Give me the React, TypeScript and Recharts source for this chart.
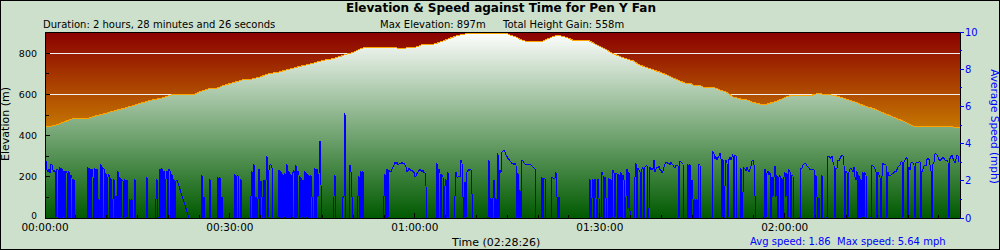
import React from "react";
import {
  ComposedChart,
  Area,
  Line,
  XAxis,
  YAxis,
  CartesianGrid,
  ReferenceLine,
} from "recharts";

// ---------- data ----------
const TOTAL_SECONDS = 8906;
const MAX_ELEVATION = 897;
const HEIGHT_GAIN = 558;
const AVG_SPEED = 1.86;
const MAX_SPEED = 5.64;
const chartTitle = "Elevation & Speed against Time for Pen Y Fan";

const elevSeconds = [
  0, 49, 114, 178, 243, 276, 406, 438, 535, 633, 730, 827, 925, 1022, 1119, 1217, 1249, 1460, 1509, 1606,
  1671, 1720, 1801, 1898, 1930, 1995, 2093, 2190, 2255, 2352, 2450, 2514, 2612, 2709, 2774, 2871, 2936, 3001, 3066, 3115,
  3407, 3439, 3504, 3520, 3601, 3650, 3682, 3780, 3812, 3877, 3942, 4007, 4071, 4120, 4250, 4494, 4526, 4574, 4623, 4672,
  4688, 4834, 4883, 4947, 4996, 5045, 5110, 5142, 5288, 5337, 5402, 5467, 5531, 5596, 5662, 5726, 5791, 5856, 5921, 5986,
  6051, 6115, 6180, 6229, 6278, 6310, 6375, 6407, 6505, 6570, 6635, 6700, 6764, 6830, 6894, 6959, 7024, 7089, 7154, 7219,
  7267, 7462, 7527, 7575, 7673, 7738, 7803, 7867, 7932, 7997, 8062, 8127, 8192, 8257, 8322, 8387, 8451, 8808, 8841, 8906,
];
const elevMeters = [
  441, 445, 452, 465, 477, 482, 482, 488, 501, 514, 528, 541, 556, 571, 580, 595, 601, 601, 614, 629,
  630, 640, 653, 666, 672, 672, 685, 702, 706, 719, 732, 740, 752, 766, 770, 784, 795, 805, 821, 828,
  828, 823, 823, 828, 828, 837, 844, 844, 848, 860, 873, 884, 892, 895, 897, 895, 889, 881, 868, 860,
  857, 857, 868, 881, 887, 881, 870, 862, 862, 850, 832, 816, 798, 784, 772, 763, 742, 731, 719, 708,
  695, 679, 666, 655, 655, 645, 645, 635, 635, 622, 610, 587, 578, 574, 561, 553, 553, 562, 574, 588,
  596, 596, 605, 601, 596, 588, 577, 566, 554, 540, 532, 517, 504, 490, 477, 462, 446, 446, 441, 441,
];

// one speed sample every SPEED_SAMPLE_SECONDS; null = no data recorded
const SPEED_SAMPLE_SECONDS = TOTAL_SECONDS / 915;
const speedMph: (number | null)[] = [
  1.5, 3.05, 2.6, 2.5, 2.65, 2.4, 2.9, 2.85, 2.6, 2.5,
  2.55, 0, 2.6, 2.6, 0, 2.75, 0, 2.7, 0, 2.55,
  0, 2.5, 2.45, 0, 2.5, 0, 2.3, 2.15, 0, 2.1,
  0, 0, 0, 0, 0, 0, 0, 0, 0, 0,
  0, 0, 0, 2.75, 0, 2.7, 0, 2.65, 2.2, 0,
  2.7, 0, 2.65, 0, 1.0, 0, 2.9, 0, 2.7, 2.65,
  0, 2.4, 0, 2.2, 2.35, 0, 2.15, 0, 1.0, 2.1,
  0, 1.2, 0, 2.5, 0, 2.2, 0, 2.05, 2.0, 0,
  2.1, 0, 2.05, 0, 0, 1.0, 0, 1.0, 0, 0,
  2.1, 0, 0, 0, 0, 0, 0, 0, 0, 0,
  0, 0, 2.2, 0, 0, 0, 0, 0, 0, 0,
  0, 1.0, 2.1, 0, 0, 2.65, 0, 2.7, 0, 2.55,
  0, 2.1, 2.55, 0, 2.6, 2.55, 0, 2.35, 0, 2.1,
  0, 2.0, 2.05, null, null, null, null, null, null, null,
  null, null, null, null, 0, 0, 0, 0, 0, 0,
  0, 0, 0, 0, 0, 0, 0, 2.3, 0, 1.15,
  0, 0, 0, 0, 0, 2.1, 0, 0, 0, 0,
  0, 0, 0, 2.2, 0, 2.2, 0, 1.15, 0, 0,
  0, 0, 0, 0, 0, 0, 0, 0, 0, 0,
  2.35, 0, 2.25, 2.3, 0, 0, 2.1, 0, 0, 0,
  0, 0, 0, 0, 0, 0, 1.15, 2.5, 0, 2.9,
  0, 1.15, 0, 1.0, 2.65, 0, 2.0, 1.15, 0, 2.05,
  0, 2.0, 3.35, 0, 2.6, 2.85, 2.85, 2.7, 0, 0,
  0, 0, 0, 0, 2.6, 0, 2.5, 0, 2.35, 0,
  2.4, 0, 2.9, 0, 2.5, 0, 2.35, 0, 2.45, 2.55,
  0, 2.85, 0, 2.55, 2.3, 0, 2.2, 0, 2.05, 0,
  2.5, 0, 2.4, 0, 2.3, 0, 2.3, 1.15, 0, 0,
  2.7, 0, 2.65, 1.15, 2.35, 4.15, 1.75, 0, 0, 0,
  0, 0, 0, 0, 0, 0, 0, 0, 0, 1.15,
  2.3, 0, 0, 0, 0, 0, 0, 0, 1.15, 1.1,
  5.64, 0, 0, 0, 0, 2.85, 2.5, 1.15, 0, 0,
  0, 0, 0, 1.15, 2.25, 0, 2.5, 0, 2.5, 0,
  0, 0, 0, 0, 0, 0, 0, 0, 0, 0,
  0, 0, 0, 0, 0, 0, 0, 0, 0, 1.15,
  2.35, 0, 2.65, 0, 2.55, 2.5, 2.5, 2.65, 2.75, 2.85,
  3.0, 2.9, 3.0, 2.85, 2.9, 2.95, 2.9, 3.0, 2.9, 2.95,
  2.85, 2.75, 2.5, 2.55, 2.7, 2.6, 2.55, 2.55, 2.5, 2.45,
  2.2, 2.25, 2.4, 2.45, 2.6, 2.55, 2.6, 2.5, 2.55, 2.45,
  2.45, 1.7, 0, 0, 0, 0, 0, 0, 0, 0,
  0, 0, 2.95, 0, 2.65, 2.4, 0, 2.3, 2.2, 0,
  1.7, 2.1, 0, 2.45, 0, 0, 0, 0, 0, 0,
  1.15, 2.45, 2.2, 2.2, 2.25, 2.2, 3.1, 2.95, 1.15, 0,
  1.95, 0, 2.45, 2.6, 2.55, 2.6, 2.6, 1.3, 0, 0,
  0, 0, 0, 0, 0, 0, 0, 0, 0, 0,
  0, 0, 0, 0, 3.1, 0, 1.05, 0, 1.05, 2.05,
  0, 1.05, 0, 3.5, 0, 2.6, 2.45, 3.55, 3.6, 3.65,
  3.55, 3.4, 3.3, 3.2, 3.15, 3.05, 3.0, 2.9, 2.95, 2.85,
  2.95, 2.85, 0, 2.4, 0, 1.5, 0, 3.1, 3.05, 2.95,
  2.9, 2.85, 2.9, 2.85, 2.85, 2.85, 2.85, 2.8, 2.75, 2.7,
  2.65, 0, 0, 0, 0, 0, 0, 2.2, 0, 2.15,
  2.1, 0, 0, 0, 0, 0, 0, 2.2, 2.15, 2.1,
  2.15, 2.45, 1.15, 0, 1.15, 0, 0, 0, 0, 0,
  0, 0, 0, 0, 0, 0, 0, 0, 0, 0,
  0, 0, 0, 0, 0, 0, 0, 0, 0, 0,
  0, 0, 0, 0, 0, 2.1, 0, 1.05, 2.1, 0,
  2.1, 1.05, 0, 2.1, 1.05, 0, 0, 2.45, 2.3, 0,
  2.2, 1.1, 0, 0, 2.15, 0, 2.1, 0, 2.6, 2.45,
  0, 2.4, 2.4, 0, 2.35, 0, 2.45, 0, 2.3, 2.05,
  0, 1.15, 2.65, 0.5, 2.45, 0.4, 0, 0, 0, 0,
  2.2, 2.95, 0, 2.65, 2.6, 2.5, 0, 2.65, 2.75, 0,
  2.75, 2.8, 2.85, 0, 0.5, 2.75, 2.6, 2.65, 2.6, 3.1,
  2.45, 2.65, 2.75, 2.7, 2.8, 2.6, 2.55, 2.45, 2.5, 2.75,
  2.9, 3.0, 3.0, 2.9, 2.95, 2.85, 3.0, 2.9, 2.85, 2.75,
  2.7, 2.85, 2.8, 2.85, 0, 3.05, 3.0, 2.95, 2.9, 0,
  0, 0, 0, 2.9, 0, 2.9, 0, 2.05, 1.0, 0,
  1.0, 0, 1.0, 0, 2.9, 2.85, 0, 0, 0, 0,
  0, 0, 0, 0, 0, 0, 0, 0, 3.55, 3.45,
  3.2, 3.3, 3.15, 3.25, 3.35, 3.5, 3.2, 0, 3.15, 0,
  1.7, 3.1, 2.95, 0, 3.15, 3.25, 3.1, 3.3, 3.45, 0,
  3.4, 3.35, 0, 0, 0, 0, 2.7, 0, 1.4, 2.7,
  2.65, 2.55, 2.75, 2.6, 2.5, 2.65, 2.8, 3.05, 3.1, 2.85,
  1.2, 0, 0, 0, 0, 0, 0, 0, 0, 0,
  2.65, 0, 2.4, 2.5, 2.3, 2.45, 0, 2.2, 1.15, 2.2,
  2.8, 1.15, 2.3, 0, 2.2, 2.3, 0, 2.15, 0, 2.2,
  2.45, 1.15, 2.4, 0, 2.6, 2.5, 0, 2.3, 2.25, 0,
  0, 0, 0, 0, 0, 0, 2.65, 2.7, 2.85, 2.9,
  2.95, 2.9, 2.8, 2.75, 2.7, 2.6, 2.6, 2.6, 2.6, 2.6,
  0, 2.3, 1.15, 0, 1.1, 0, 0, 2.3, 0, 0,
  0, 0, 0, 3.3, 3.3, 3.25, 3.2, 3.35, 3.0, 2.85,
  0, 2.65, 2.7, 3.1, 3.05, 3.2, 3.3, 3.35, 3.35, 2.85,
  0, 2.5, 2.45, 0, 2.45, 2.65, 2.7, 2.6, 2.5, 2.75,
  2.2, 2.05, 2.5, 0, 2.3, 0, 2.1, 0, 2.45, 0,
  2.4, 2.3, 0, 0, 0, 0, 0, 2.8, 2.8, 2.75,
  2.65, 2.5, 0, 2.45, 2.3, 2.2, 0, 2.25, 2.95, 2.85,
  2.9, 2.85, 0, 2.45, 2.25, 2.3, 2.3, 2.35, 2.4, 2.45,
  2.5, 2.5, 2.6, 2.75, 2.8, 2.85, 3.0, 3.05, 0, 3.0,
  3.1, 3.2, 3.25, 0, 2.75, 2.6, 2.95, 3.0, 2.95, 2.85,
  0, 2.95, 3.0, 2.95, 3.0, 3.05, 0, 2.5, 2.65, 2.8,
  2.85, 2.8, 3.15, 3.2, 3.15, 2.85, 2.55, 0, 2.9, 3.0,
  3.45, 3.45, 3.4, 3.3, 3.15, 3.1, 3.15, 3.2, 3.25, 3.2,
  3.1, 3.05, 3.1, 3.0, 0, 3.2, 3.3, 3.4, 3.2, 3.05,
  2.95, 3.15, 3.4, 3.35, 3.0,
];

const timeTickSeconds = [
  0, 300, 600, 900, 1200, 1500, 1800, 2100, 2400, 2700, 3000, 3300, 3600, 3900, 4200,
  4500, 4800, 5100, 5400, 5700, 6000, 6300, 6600, 6900, 7200, 7500, 7800, 8100, 8400, 8700,
];
const labeledTimeTicks = [0, 1800, 3600, 5400, 7200];
const elevTicks = [0, 100, 200, 300, 400, 500, 600, 700, 800];
const labeledElevTicks = [0, 200, 400, 600, 800];
const elevGridValues = [200, 400, 600, 800];
const speedTicks = [0, 1, 2, 3, 4, 5, 6, 7, 8, 9, 10];
const labeledSpeedTicks = [0, 2, 4, 6, 8, 10];
const ELEV_AXIS_MAX = 903;
const SPEED_AXIS_MAX = 10;

// ---------- helpers ----------
const pad = (n: number) => String(n).padStart(2, "0");
const fmtTime = (s: number) =>
  `${pad(Math.floor(s / 3600))}:${pad(Math.floor((s % 3600) / 60))}:${pad(Math.round(s % 60))}`;

type Row = { t: number; elev: number | null; speed: number | null };
const rows: Row[] = [];
speedMph.forEach((v, i) => rows.push({ t: i * SPEED_SAMPLE_SECONDS, elev: null, speed: v }));
elevSeconds.forEach((t, i) => rows.push({ t, elev: elevMeters[i], speed: null }));
rows.sort((a, b) => a.t - b.t);

const FONT = "DejaVu Sans";

const TimeTick = (props: any) => {
  const { x, y, payload } = props;
  const v = payload.value as number;
  const labeled = labeledTimeTicks.includes(v);
  return (
    <g>
      <line x1={x} y1={y} x2={x} y2={y - (labeled ? 5 : 3)} stroke="#000" />
      {labeled && (
        <text x={x} y={y + 12.5} textAnchor="middle" fontSize={10.5} fontFamily={FONT} fill="#000">
          {fmtTime(v)}
        </text>
      )}
    </g>
  );
};

const ElevTick = (props: any) => {
  const { x, y, payload } = props;
  const v = payload.value as number;
  const labeled = labeledElevTicks.includes(v);
  return (
    <g>
      <line x1={x} y1={y} x2={x + (labeled ? 5 : 4)} y2={y} stroke="#000" />
      {labeled && (
        <text
          x={x - 8}
          y={y + (v === 0 ? 1 : 3.5)}
          textAnchor="end"
          fontSize={v === 0 ? 9 : 9.5}
          fontFamily={FONT}
          fill="#000"
        >
          {v}
        </text>
      )}
    </g>
  );
};

const SpeedTick = (props: any) => {
  const { x, y, payload } = props;
  const v = payload.value as number;
  const labeled = labeledSpeedTicks.includes(v);
  return (
    <g>
      <line x1={x} y1={y} x2={x + (labeled ? 4 : 2)} y2={y} stroke="#0000ff" />
      {labeled && (
        <text x={x + 5} y={y + 3.5} textAnchor="start" fontSize={10} fontFamily={FONT} fill="#0000ff">
          {v}
        </text>
      )}
    </g>
  );
};

export default function App() {
  return (
    <div
      style={{
        position: "relative",
        width: 1000,
        height: 250,
        background: "#cde0cb",
        overflow: "hidden",
      }}
    >
      <style>{`body{margin:0} .recharts-surface{shape-rendering:crispEdges}`}</style>
      <div style={{ position: "absolute", left: 0, top: 0 }}>
        <ComposedChart
          width={1000}
          height={250}
          data={rows}
          margin={{ top: 32, right: 0, bottom: 0, left: 0 }}
        >
          <defs>
            <linearGradient id="bgGrad" gradientUnits="userSpaceOnUse" x1="0" y1="32" x2="0" y2="218">
              <stop offset="0" stopColor="#8a0000" />
              <stop offset="1" stopColor="#fce600" />
            </linearGradient>
            <linearGradient id="areaGrad" gradientUnits="userSpaceOnUse" x1="0" y1="32" x2="0" y2="218">
              <stop offset="0" stopColor="#ffffff" />
              <stop offset="1" stopColor="#005a00" />
            </linearGradient>
          </defs>
          <CartesianGrid
            yAxisId="elev"
            vertical={false}
            horizontalValues={elevGridValues}
            stroke="#f0f0f0"
            fill="url(#bgGrad)"
            fillOpacity={1}
          />
          <XAxis
            dataKey="t"
            type="number"
            domain={[0, TOTAL_SECONDS]}
            allowDataOverflow
            ticks={timeTickSeconds}
            interval={0}
            height={32}
            tickSize={0}
            tickMargin={0}
            tickLine={false}
            axisLine={{ stroke: "#000" }}
            tick={<TimeTick />}
          />
          <YAxis
            yAxisId="elev"
            orientation="left"
            width={45}
            domain={[0, ELEV_AXIS_MAX]}
            allowDataOverflow
            ticks={elevTicks}
            interval={0}
            tickSize={0}
            tickMargin={0}
            tickLine={false}
            axisLine={{ stroke: "#000" }}
            tick={<ElevTick />}
          />
          <YAxis
            yAxisId="speed"
            orientation="right"
            width={40}
            domain={[0, SPEED_AXIS_MAX]}
            allowDataOverflow
            ticks={speedTicks}
            interval={0}
            tickSize={0}
            tickMargin={0}
            tickLine={false}
            axisLine={{ stroke: "#000" }}
            tick={<SpeedTick />}
          />
          <Area
            yAxisId="elev"
            dataKey="elev"
            type="linear"
            stroke="#ffa500"
            strokeWidth={1}
            fill="url(#areaGrad)"
            fillOpacity={1}
            connectNulls
            dot={false}
            activeDot={false}
            isAnimationActive={false}
          />
          <Line
            yAxisId="speed"
            dataKey="speed"
            type="linear"
            stroke="#0000ff"
            strokeWidth={1}
            connectNulls
            dot={false}
            activeDot={false}
            isAnimationActive={false}
          />
          <ReferenceLine yAxisId="elev" y={ELEV_AXIS_MAX} stroke="#000" />
        </ComposedChart>
      </div>
      <svg
        width={1000}
        height={250}
        style={{ position: "absolute", left: 0, top: 0, pointerEvents: "none" }}
        fontFamily={FONT}
      >
        <rect x={0.5} y={0.5} width={999} height={249} fill="none" stroke="#000" />
        <text x={501} y={12} textAnchor="middle" fontSize={12} fontWeight="bold" fill="#000">
          {chartTitle}
        </text>
        <text x={43} y={27.5} fontSize={10} fill="#000">
          Duration: 2 hours, 28 minutes and 26 seconds
        </text>
        <text x={380} y={27.5} fontSize={10} fill="#000">
          {`Max Elevation: ${MAX_ELEVATION}m`}
        </text>
        <text x={503} y={27.5} fontSize={10} fill="#000">
          {`Total Height Gain: ${HEIGHT_GAIN}m`}
        </text>
        <text transform="translate(9,124) rotate(-90)" textAnchor="middle" fontSize={11} fill="#000">
          Elevation (m)
        </text>
        <text
          transform="translate(990.5,126.5) rotate(90)"
          textAnchor="middle"
          fontSize={10.5}
          fill="#0000ff"
        >
          Average Speed (mph)
        </text>
        <text x={452} y={245.5} fontSize={11} fill="#000">
          {`Time (${fmtTime(TOTAL_SECONDS)})`}
        </text>
        <text x={750} y={245} fontSize={10} fill="#0000ff" style={{ whiteSpace: "pre" }}>
          {`Avg speed: ${AVG_SPEED}  Max speed: ${MAX_SPEED} mph`}
        </text>
      </svg>
    </div>
  );
}
